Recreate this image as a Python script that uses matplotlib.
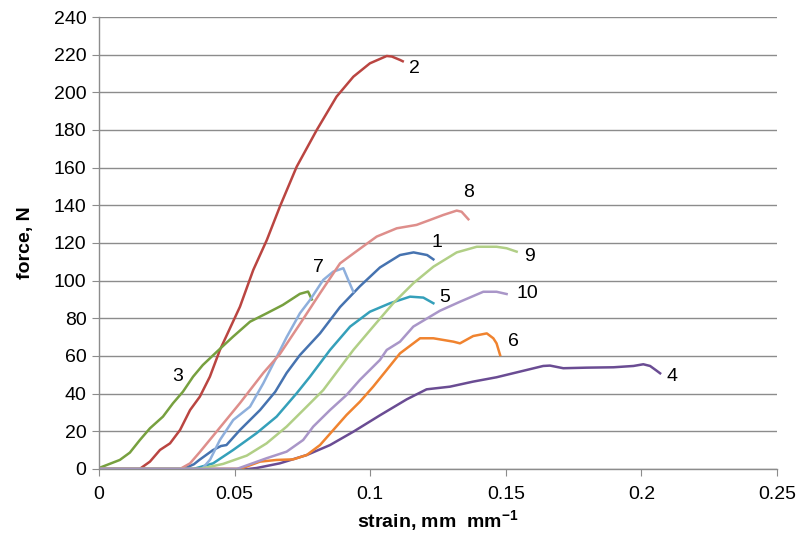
import matplotlib
matplotlib.use("Agg")
import matplotlib.pyplot as plt

plt.rcParams['font.family'] = ['Liberation Sans', 'DejaVu Sans']

# tensile curves: strain (mm/mm) and force (N)
strain_1 = [0, 0.031, 0.035, 0.037, 0.042, 0.045, 0.047, 0.052, 0.0594, 0.065, 0.0692, 0.0741,
            0.0815, 0.0889, 0.0962, 0.1036, 0.111, 0.116, 0.121, 0.1233]
force_1 = [0, 0, 2.5, 4.8, 10, 12.2, 12.7, 20.7, 31.3, 41, 51, 60.5,
           72, 86, 97, 107, 113.6, 115, 113.6, 111.3]

strain_2 = [0, 0.015, 0.0188, 0.0225, 0.0262, 0.0299, 0.0336, 0.0372, 0.0409, 0.0446, 0.0483,
            0.052, 0.0569, 0.0619, 0.0667, 0.0729, 0.0803, 0.0876, 0.0938, 0.0999, 0.1061,
            0.108, 0.111, 0.112]
force_2 = [0, 0, 3.9, 10.1, 13.6, 20.7, 31.3, 38.4, 49, 63.2, 74.7,
           86.2, 105.7, 121.6, 139.3, 160.5, 180, 197.7, 208.3, 215.4, 219.3,
           219, 217.2, 216.5]

strain_3 = [0, 0.0077, 0.0114, 0.0151, 0.0188, 0.0236, 0.0273, 0.031, 0.0347, 0.0383, 0.0435,
            0.0494, 0.0557, 0.0619, 0.0678, 0.0741, 0.0771, 0.0785]
force_3 = [0.5, 4.8, 8.7, 15.4, 21.6, 27.8, 34.9, 41.1, 49, 55.2, 62.3,
           70.2, 78.2, 82.7, 87.1, 93, 94.2, 90]

strain_4 = [0, 0.055, 0.0581, 0.0667, 0.0766, 0.0852, 0.0938, 0.1036, 0.1135, 0.1208, 0.1294,
            0.138, 0.1466, 0.1552, 0.1638, 0.1663, 0.1712, 0.1798, 0.1897, 0.1971, 0.2007,
            0.2032, 0.2056, 0.2069]
force_4 = [0, 0, 0.5, 3, 7.4, 12.7, 19.8, 28.5, 37, 42.3, 43.7,
           46.4, 48.7, 51.7, 54.7, 54.9, 53.5, 53.8, 54, 54.7, 55.6,
           54.7, 52.2, 50.8]

strain_5 = [0, 0.0348, 0.0421, 0.0495, 0.0581, 0.0655, 0.0729, 0.0778, 0.0852, 0.0926, 0.0999,
            0.1073, 0.1147, 0.1196, 0.1233]
force_5 = [0, 0, 3, 10.1, 19, 27.8, 40.2, 49, 63.2, 75.6, 83.5,
           88, 91.5, 91, 88]

strain_6 = [0, 0.052, 0.0594, 0.0655, 0.0716, 0.0766, 0.0815, 0.0864, 0.0913, 0.0962, 0.1011,
            0.1061, 0.111, 0.1184, 0.1233, 0.1307, 0.1331, 0.138, 0.143, 0.1454, 0.1466, 0.1479]
force_6 = [0, 0, 3.9, 4.8, 5.1, 7.4, 12.7, 20.7, 28.7, 35.7, 43.7,
           52.6, 61.4, 69.4, 69.4, 67.6, 66.7, 70.6, 72, 69.4, 66.7, 60.5]

strain_7 = [0, 0.038, 0.041, 0.0446, 0.0495, 0.0557, 0.0606, 0.0643, 0.0692, 0.0741, 0.0778,
            0.0827, 0.0864, 0.0901, 0.0919, 0.0938]
force_7 = [0, 0, 5, 15.4, 26, 33.1, 45.5, 56, 70, 82.7, 89.7,
           100.4, 104.8, 106.6, 100.4, 94.1]

strain_8 = [0, 0.0299, 0.0336, 0.0372, 0.0446, 0.052, 0.0606, 0.0667, 0.0741, 0.0815, 0.0889,
            0.0956, 0.1024, 0.1098, 0.1171, 0.122, 0.127, 0.1319, 0.1337, 0.1362]
force_8 = [0, 0, 3, 9, 22, 35, 51, 61, 77, 93.3, 109.2,
           116.3, 123.4, 127.8, 129.6, 132.2, 134.9, 137.2, 136.6, 132.6]

strain_9 = [0, 0.0372, 0.0458, 0.0545, 0.0618, 0.0692, 0.0766, 0.0827, 0.0864, 0.0938, 0.1011,
            0.1085, 0.1159, 0.1233, 0.1319, 0.1393, 0.1466, 0.1503, 0.154]
force_9 = [0, 0, 2.7, 7.1, 13.6, 22.5, 33.1, 41.9, 49, 63.2, 75.6,
           88, 98.6, 107.4, 115, 118, 118, 117.2, 115.4]

strain_10 = [0, 0.0508, 0.0618, 0.0692, 0.0753, 0.079, 0.0852, 0.0913, 0.0962, 0.1036, 0.1061,
             0.111, 0.1159, 0.1257, 0.1331, 0.1417, 0.1466, 0.1503]
force_10 = [0, 0, 5.7, 9.2, 15.4, 22.5, 31.3, 39.3, 47.3, 57.9, 63.2,
            67.6, 75.6, 84, 88.8, 94.1, 94.1, 92.9]

labels = ['1', '2', '3', '4', '5', '6', '7', '8', '9', '10']
label_x = [0.1246, 0.1165, 0.0292, 0.2112, 0.1276, 0.1527, 0.0808, 0.1363, 0.1587, 0.1580]
label_y = [120.5, 212.5, 49, 49, 91, 67.5, 107, 147, 113, 93]

colors = ['#4673B0', '#BA4541', '#77A03F', '#6A4C93', '#35A0BA',
          '#F0832F', '#8EAFDC', '#DE8E8B', '#B1CF86', '#A996C8']

strains = [strain_1, strain_2, strain_3, strain_4, strain_5,
           strain_6, strain_7, strain_8, strain_9, strain_10]
forces = [force_1, force_2, force_3, force_4, force_5,
          force_6, force_7, force_8, force_9, force_10]

fig = plt.figure(figsize=(7.98, 5.38), dpi=100)
ax = fig.add_axes([0.124, 0.1283, 0.8497, 0.8401])

for s, f, c in zip(strains, forces, colors):
    ax.plot(s, f, color=c, lw=1.8, solid_joinstyle='round')

for lab, x, y in zip(labels, label_x, label_y):
    ax.text(x, y, lab, fontsize=14, ha='center', va='center', color='black')

ax.set_xlim(0, 0.25)
ax.set_ylim(0, 240)
ax.set_xticks([0, 0.05, 0.1, 0.15, 0.2, 0.25])
ax.set_xticklabels(['0', '0.05', '0.1', '0.15', '0.2', '0.25'])
ax.set_yticks(range(0, 241, 20))

ax.grid(axis='y', color='#8c8c8c', lw=1)
ax.set_axisbelow(True)
for side in ['top', 'right']:
    ax.spines[side].set_visible(False)
for side in ['left', 'bottom']:
    ax.spines[side].set_color('#8c8c8c')
    ax.spines[side].set_linewidth(1)

ax.tick_params(axis='both', direction='out', length=5, color='#8c8c8c', labelsize=14)
ax.tick_params(axis='y', pad=4)
ax.tick_params(axis='x', pad=7)

ax.set_xlabel('strain, mm  mm$^{\\mathregular{-1}}$', fontsize=14, fontweight='bold', labelpad=4)
ax.set_ylabel('force, N', fontsize=14, fontweight='bold', labelpad=14)

fig.savefig('out.png', dpi=100)
